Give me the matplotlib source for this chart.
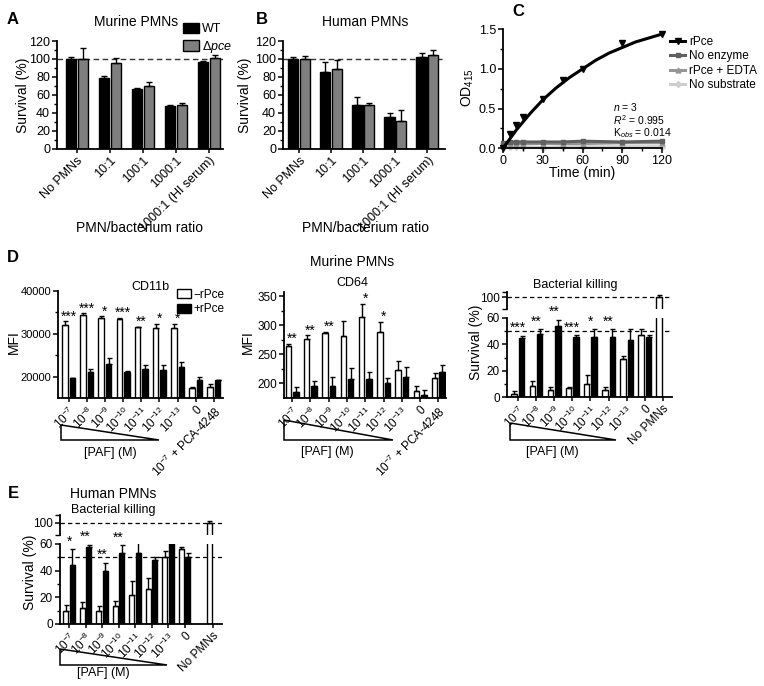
import numpy as np
import matplotlib
matplotlib.use('Agg')
import matplotlib.pyplot as plt
from matplotlib.patches import Polygon, Patch
from matplotlib.lines import Line2D
from matplotlib.ticker import MultipleLocator, FixedLocator

plt.rcParams['font.family'] = ['Liberation Sans', 'DejaVu Sans']
plt.rcParams['mathtext.fontset'] = 'custom'
plt.rcParams['mathtext.rm'] = 'Liberation Sans'
plt.rcParams['mathtext.it'] = 'Liberation Sans:italic'
plt.rcParams['mathtext.bf'] = 'Liberation Sans:bold'

# ---------------- data ----------------
ratio_labels = ['No PMNs', '10:1', '100:1', '1000:1', '1000:1 (HI serum)']
a_wt = [100, 79, 66, 48, 97]
a_wt_err = [2, 2, 2, 1, 1]
a_pce = [100, 95, 70, 49, 101]
a_pce_err = [12, 6, 4, 1.5, 3.5]
b_wt = [100, 85, 49, 35, 102]
b_wt_err = [2, 12, 8, 5, 5]
b_pce = [100, 89, 49, 31, 104]
b_pce_err = [3, 10, 2, 12, 6]

time_min = [0, 5, 10, 15, 30, 45, 60, 90, 120]
od_rpce = [0.0, 0.18, 0.29, 0.39, 0.62, 0.86, 1.0, 1.33, 1.44]
od_noenz = [0.07, 0.08, 0.08, 0.08, 0.08, 0.08, 0.09, 0.08, 0.09]
od_edta = [0.05, 0.06, 0.06, 0.06, 0.06, 0.06, 0.06, 0.07, 0.07]
od_nosub = [0.0, 0.02, 0.02, 0.02, 0.01, 0.02, 0.02, 0.02, 0.02]
fit_time = [0, 10, 20, 30, 40, 50, 60, 70, 80, 90, 100, 110, 120]
fit_od = [0.0, 0.23, 0.43, 0.61, 0.76, 0.89, 1.0, 1.11, 1.2, 1.27, 1.34, 1.39, 1.44]

paf_labels_d = ['10$^{-7}$', '10$^{-8}$', '10$^{-9}$', '10$^{-10}$', '10$^{-11}$',
                '10$^{-12}$', '10$^{-13}$', '0', '10$^{-7}$ + PCA-4248']
paf_labels_k = ['10$^{-7}$', '10$^{-8}$', '10$^{-9}$', '10$^{-10}$', '10$^{-11}$',
                '10$^{-12}$', '10$^{-13}$', '0', 'No PMNs']

cd11b_minus = [32000, 34400, 33800, 33500, 31500, 31300, 31300, 17300, 17500]
cd11b_minus_err = [900, 400, 250, 300, 200, 1100, 1000, 200, 800]
cd11b_plus = [19600, 21000, 22900, 21100, 21800, 21600, 22200, 19100, 19100]
cd11b_plus_err = [100, 800, 1500, 100, 1000, 1000, 1100, 700, 200]
cd11b_stars = ['***', '***', '*', '***', '**', '*', '*', '', '']

cd64_minus = [265, 276, 287, 281, 315, 288, 223, 187, 210]
cd64_minus_err = [3, 7, 2, 27, 22, 18, 15, 9, 8]
cd64_plus = [185, 195, 195, 208, 208, 200, 211, 180, 220]
cd64_plus_err = [9, 10, 17, 18, 11, 9, 18, 9, 11]
cd64_stars = ['**', '**', '**', '', '*', '*', '', '', '']

mkill_minus = [2, 8, 5, 7, 10, 5, 29, 47, 100]
mkill_minus_err = [2.2, 4, 2.5, 0.3, 7, 2.5, 2.5, 4.5, 1.5]
mkill_plus = [45, 47.5, 54, 45.5, 45.5, 45.5, 43, 45.5]
mkill_plus_err = [1.7, 4, 4.5, 1.5, 6, 6, 9, 1.5]
mkill_stars = ['***', '**', '**', '***', '*', '**', '', '', '']

hkill_minus = [9.5, 12, 9.5, 13.5, 22, 26.5, 50, 56, 100]
hkill_minus_err = [5, 4.5, 4, 3.5, 10, 8, 5, 2, 1.5]
hkill_plus = [44, 58, 40, 53, 53.5, 48, 62, 50]
hkill_plus_err = [12, 1.5, 6, 6, 8, 2.5, 0, 3]
hkill_stars = ['*', '**', '**', '**', '', '', '', '', '']

# ---------------- figure ----------------
W, H = 764, 686
fig = plt.figure(figsize=(7.64, 6.86), dpi=100)


def ax_at(l, t, r, b):
    return fig.add_axes([l / W, 1 - b / H, (r - l) / W, (b - t) / H])


def fx(px):
    return px / W


def fy(py):
    return 1 - py / H


def style(ax, bottom=True, labelsize=9):
    for s in ['top', 'right']:
        ax.spines[s].set_visible(False)
    for s in ['left', 'bottom']:
        ax.spines[s].set_linewidth(1.3)
    if not bottom:
        ax.spines['bottom'].set_visible(False)
        ax.tick_params(axis='x', bottom=False, labelbottom=False)
    ax.tick_params(direction='out', length=3.5, width=1.1, labelsize=labelsize, pad=1.5)
    ax.tick_params(which='minor', direction='out', length=2, width=1.0)
    ax.patch.set_alpha(0)


def draw_bars(ax, x, h, err, color, width, lw=1.0, cap=2.0):
    x = np.asarray(x, float)
    ax.bar(x, h, width, color=color, edgecolor='black', linewidth=lw, zorder=2)
    ax.errorbar(x, h, yerr=[np.zeros(len(h)), err], fmt='none', ecolor='black',
                elinewidth=1.0, capsize=cap, capthick=1.0, zorder=3)


def label(x, y, s, size=9, **kw):
    fig.text(fx(x), fy(y), s, fontsize=size, ha=kw.pop('ha', 'center'),
             va=kw.pop('va', 'center'), **kw)


# ---------------- Panel A & B ----------------
def ratio_panel(ax, wt, wte, pc, pce, xlim):
    x = np.arange(len(ratio_labels))
    draw_bars(ax, x - 0.18, wt, wte, 'black', 0.32)
    draw_bars(ax, x + 0.18, pc, pce, '#7f7f7f', 0.32)
    ax.axhline(100, color='#333333', lw=1.0, ls=(0, (4, 2.5)), zorder=1)
    ax.set_ylim(0, 120)
    ax.set_xlim(*xlim)
    ax.yaxis.set_major_locator(MultipleLocator(20))
    ax.yaxis.set_minor_locator(MultipleLocator(10))
    ax.set_xticks(x)
    ax.set_xticklabels(ratio_labels, rotation=45, ha='right', rotation_mode='anchor',
                       fontsize=9)
    style(ax)
    ax.tick_params(axis='x', length=3)


axA = ax_at(57, 41, 223, 148.5)
ratio_panel(axA, a_wt, a_wt_err, a_pce, a_pce_err, (-0.6, 4.42))
axB = ax_at(283, 41, 445, 148.5)
ratio_panel(axB, b_wt, b_wt_err, b_pce, b_pce_err, (-0.5, 4.55))

label(23, 95, 'Survival (%)', 10, rotation=90)
label(245, 95, 'Survival (%)', 10, rotation=90)
label(140, 228, 'PMN/bacterium ratio', 10)
label(365, 228, 'PMN/bacterium ratio', 10)
label(136, 22, 'Murine PMNs', 10)
label(365, 22, 'Human PMNs', 10)
label(13, 20, 'A', 12, weight='bold')
label(262, 20, 'B', 12, weight='bold')
label(518, 12, 'C', 12, weight='bold')
label(13, 258, 'D', 12, weight='bold')
label(13, 494, 'E', 12, weight='bold')

legA = [Patch(facecolor='black', edgecolor='black', label='WT'),
        Patch(facecolor='#7f7f7f', edgecolor='black', label='Δ$\\it{pce}$')]
fig.legend(handles=legA, loc='upper left', bbox_to_anchor=(fx(183), fy(23)),
           frameon=False, fontsize=9, handlelength=1.3, handleheight=0.9,
           handletextpad=0.2, labelspacing=0.25, borderpad=0, borderaxespad=0)

# ---------------- Panel C ----------------
axC = ax_at(503, 29.3, 662, 148.3)
axC.plot(fit_time, fit_od, color='black', lw=2.2, zorder=4, clip_on=False)
axC.plot(time_min, od_rpce, ls='none', marker='v', ms=4.5, color='black', zorder=5, clip_on=False)
axC.plot(time_min, od_noenz, color='#606060', lw=2.2, marker='s', ms=3.5, zorder=3, clip_on=False)
axC.plot(time_min, od_edta, color='#959595', lw=2.2, marker='^', ms=3.5, zorder=2, clip_on=False)
axC.plot(time_min, od_nosub, color='#cfcfcf', lw=2.2, marker='D', ms=3.0, zorder=1, clip_on=False)
axC.set_xlim(0, 120)
axC.set_ylim(0, 1.5)
axC.xaxis.set_major_locator(MultipleLocator(30))
axC.xaxis.set_minor_locator(MultipleLocator(15))
axC.yaxis.set_major_locator(MultipleLocator(0.5))
axC.yaxis.set_minor_locator(MultipleLocator(0.25))
axC.yaxis.set_major_formatter(matplotlib.ticker.FormatStrFormatter('%.1f'))
style(axC)
label(468, 88, 'OD$_{415}$', 10, rotation=90)
label(582, 173, 'Time (min)', 10)
label(613, 107, '$n$ = 3', 7.5, ha='left')
label(613, 120, '$R^2$ = 0.995', 7.5, ha='left')
label(613, 133, 'K$_{obs}$ = 0.014', 7.5, ha='left')
legC = [Line2D([], [], color='black', lw=2.2, marker='v', ms=4, label='rPce'),
        Line2D([], [], color='#606060', lw=2.2, marker='s', ms=3.5, label='No enzyme'),
        Line2D([], [], color='#959595', lw=2.2, marker='^', ms=3.5, label='rPce + EDTA'),
        Line2D([], [], color='#cfcfcf', lw=2.2, marker='D', ms=3, label='No substrate')]
fig.legend(handles=legC, loc='upper left', bbox_to_anchor=(fx(670), fy(36)),
           frameon=False, fontsize=8.5, handlelength=1.3, handletextpad=0.3,
           labelspacing=0.2, borderpad=0, borderaxespad=0)


# ---------------- helpers for D/E ----------------
def triangle(ax, x0, x1, y0, y1):
    pos = ax.get_position()

    def yax(py):
        return (fy(py) - pos.y0) / pos.height
    poly = Polygon([(x0, yax(y0)), (x0, yax(y1)), (x1, yax(y1))], closed=True,
                   facecolor='white', edgecolor='black', lw=1.1, clip_on=False,
                   transform=ax.transAxes)
    ax.add_patch(poly)


def xlabels(ax, labels, x):
    ax.set_xticks(x)
    ax.set_xticklabels(labels, rotation=45, ha='right', rotation_mode='anchor', fontsize=8.5)
    ax.tick_params(axis='x', length=3)


def stars(ax, x, tops, marks, off=2):
    for xi, t, m in zip(x, tops, marks):
        if m:
            ax.annotate(m, (xi, t), xytext=(0, off), textcoords='offset points',
                        ha='center', va='bottom', fontsize=10, annotation_clip=False)


# ---------------- Panel D1 CD11b ----------------
xd = np.arange(9)
axD1 = ax_at(58, 291, 223, 398)
draw_bars(axD1, xd - 0.205, cd11b_minus, cd11b_minus_err, 'white', 0.3, cap=1.8)
draw_bars(axD1, xd + 0.205, cd11b_plus, cd11b_plus_err, 'black', 0.3, cap=1.8)
axD1.set_ylim(15000, 40000)
axD1.set_xlim(-0.58, 8.5)
axD1.yaxis.set_major_locator(FixedLocator([20000, 30000, 40000]))
axD1.yaxis.set_minor_locator(FixedLocator([25000, 35000]))
style(axD1, labelsize=8)
xlabels(axD1, paf_labels_d, xd)
tops = [max(a + ae, b + be) for a, ae, b, be in zip(cd11b_minus, cd11b_minus_err, cd11b_plus, cd11b_plus_err)]
stars(axD1, xd, tops, cd11b_stars, off=-1.5)
label(14, 342, 'MFI', 10, rotation=90)
label(150, 287, 'CD11b', 9)
legD = [Patch(facecolor='white', edgecolor='black', label='\u2212rPce'),
        Patch(facecolor='black', edgecolor='black', label='+rPce')]
fig.legend(handles=legD, loc='upper left', bbox_to_anchor=(fx(177), fy(289)),
           frameon=False, fontsize=8.5, handlelength=1.2, handleheight=0.8,
           handletextpad=0.2, labelspacing=0.2, borderpad=0, borderaxespad=0)
triangle(axD1, 0.02, 0.61, 425.5, 440)
label(110, 453, '[PAF] (M)', 9)

# ---------------- Panel D2 CD64 ----------------
axD2 = ax_at(284, 291.7, 446, 398)
draw_bars(axD2, xd - 0.205, cd64_minus, cd64_minus_err, 'white', 0.3, cap=1.8)
draw_bars(axD2, xd + 0.205, cd64_plus, cd64_plus_err, 'black', 0.3, cap=1.8)
axD2.set_ylim(175, 358)
axD2.set_xlim(-0.45, 8.42)
axD2.yaxis.set_major_locator(FixedLocator([200, 250, 300, 350]))
axD2.yaxis.set_minor_locator(FixedLocator([225, 275, 325]))
style(axD2, labelsize=8.5)
xlabels(axD2, paf_labels_d, xd)
tops = [max(a + ae, b + be) for a, ae, b, be in zip(cd64_minus, cd64_minus_err, cd64_plus, cd64_plus_err)]
stars(axD2, xd, tops, cd64_stars, off=-1.5)
label(248, 342, 'MFI', 10, rotation=90)
label(352, 283, 'CD64', 9)
label(352, 262, 'Murine PMNs', 10)
triangle(axD2, 0.0, 0.67, 420, 440)
label(327, 452, '[PAF] (M)', 9)


# ---------------- killing panels with broken axis ----------------
def killing(l, r, t_up, b_up, t_lo, b_lo, up_lim, x_pos, xlim, minus, minus_err,
            plus, plus_err, marks, labels):
    lo = ax_at(l, t_lo, r, b_lo)
    up = ax_at(l, t_up, r, b_up)
    xm = np.array([p - 0.205 for p in x_pos])
    xp = np.array([p + 0.205 for p in x_pos[:len(plus)]])
    for ax in (lo, up):
        draw_bars(ax, xm, minus, minus_err, 'white', 0.3, cap=1.8)
        draw_bars(ax, xp, plus, plus_err, 'black', 0.3, cap=1.8)
        ax.set_xlim(*xlim)
    lo.set_ylim(0, 60)
    up.set_ylim(*up_lim)
    lo.axhline(50, color='black', lw=0.9, ls=(0, (3.5, 2.5)), zorder=1)
    up.axhline(100, color='black', lw=0.9, ls=(0, (3.5, 2.5)), zorder=1)
    lo.yaxis.set_major_locator(FixedLocator([0, 20, 40, 60]))
    lo.yaxis.set_minor_locator(FixedLocator([10, 30, 50]))
    up.yaxis.set_major_locator(FixedLocator([100]))
    up.yaxis.set_minor_locator(FixedLocator([up_lim[0] + 0.3, up_lim[1] - 0.3]))
    style(lo, labelsize=8.5)
    style(up, bottom=False, labelsize=8.5)
    up.tick_params(which='minor', length=3.5)
    xlabels(lo, labels, x_pos)
    tops = []
    for i in range(len(x_pos)):
        a = minus[i] + minus_err[i]
        b = plus[i] + plus_err[i] if i < len(plus) else 0
        tops.append(min(max(a, b), 62))
    stars(lo, x_pos, tops, marks, off=0.5)
    return lo, up


xk = list(range(9))
axD3, axD3u = killing(507, 672, 291.7, 309, 318, 397, (91, 104), xk, (-0.6, 8.5),
                      mkill_minus, mkill_minus_err, mkill_plus, mkill_plus_err,
                      mkill_stars, paf_labels_k)
label(476, 342, 'Survival (%)', 10, rotation=90)
label(575, 285, 'Bacterial killing', 9)
triangle(axD3, 0.02, 0.66, 423, 440)
label(552, 452, '[PAF] (M)', 9)

xe = [0, 1, 2, 3, 4, 5, 6, 7, 8.7]
axE, axEu = killing(60, 222, 515, 535, 544, 624, (91, 105.8), xe, (-0.55, 9.27),
                    hkill_minus, hkill_minus_err, hkill_plus, hkill_plus_err,
                    hkill_stars, paf_labels_k)
label(30, 572, 'Survival (%)', 10, rotation=90)
label(113, 494, 'Human PMNs', 10)
label(113, 510, 'Bacterial killing', 9)
triangle(axE, 0.0, 0.66, 649, 665)
label(103, 673, '[PAF] (M)', 9)

fig.savefig('out.png', dpi=100)
